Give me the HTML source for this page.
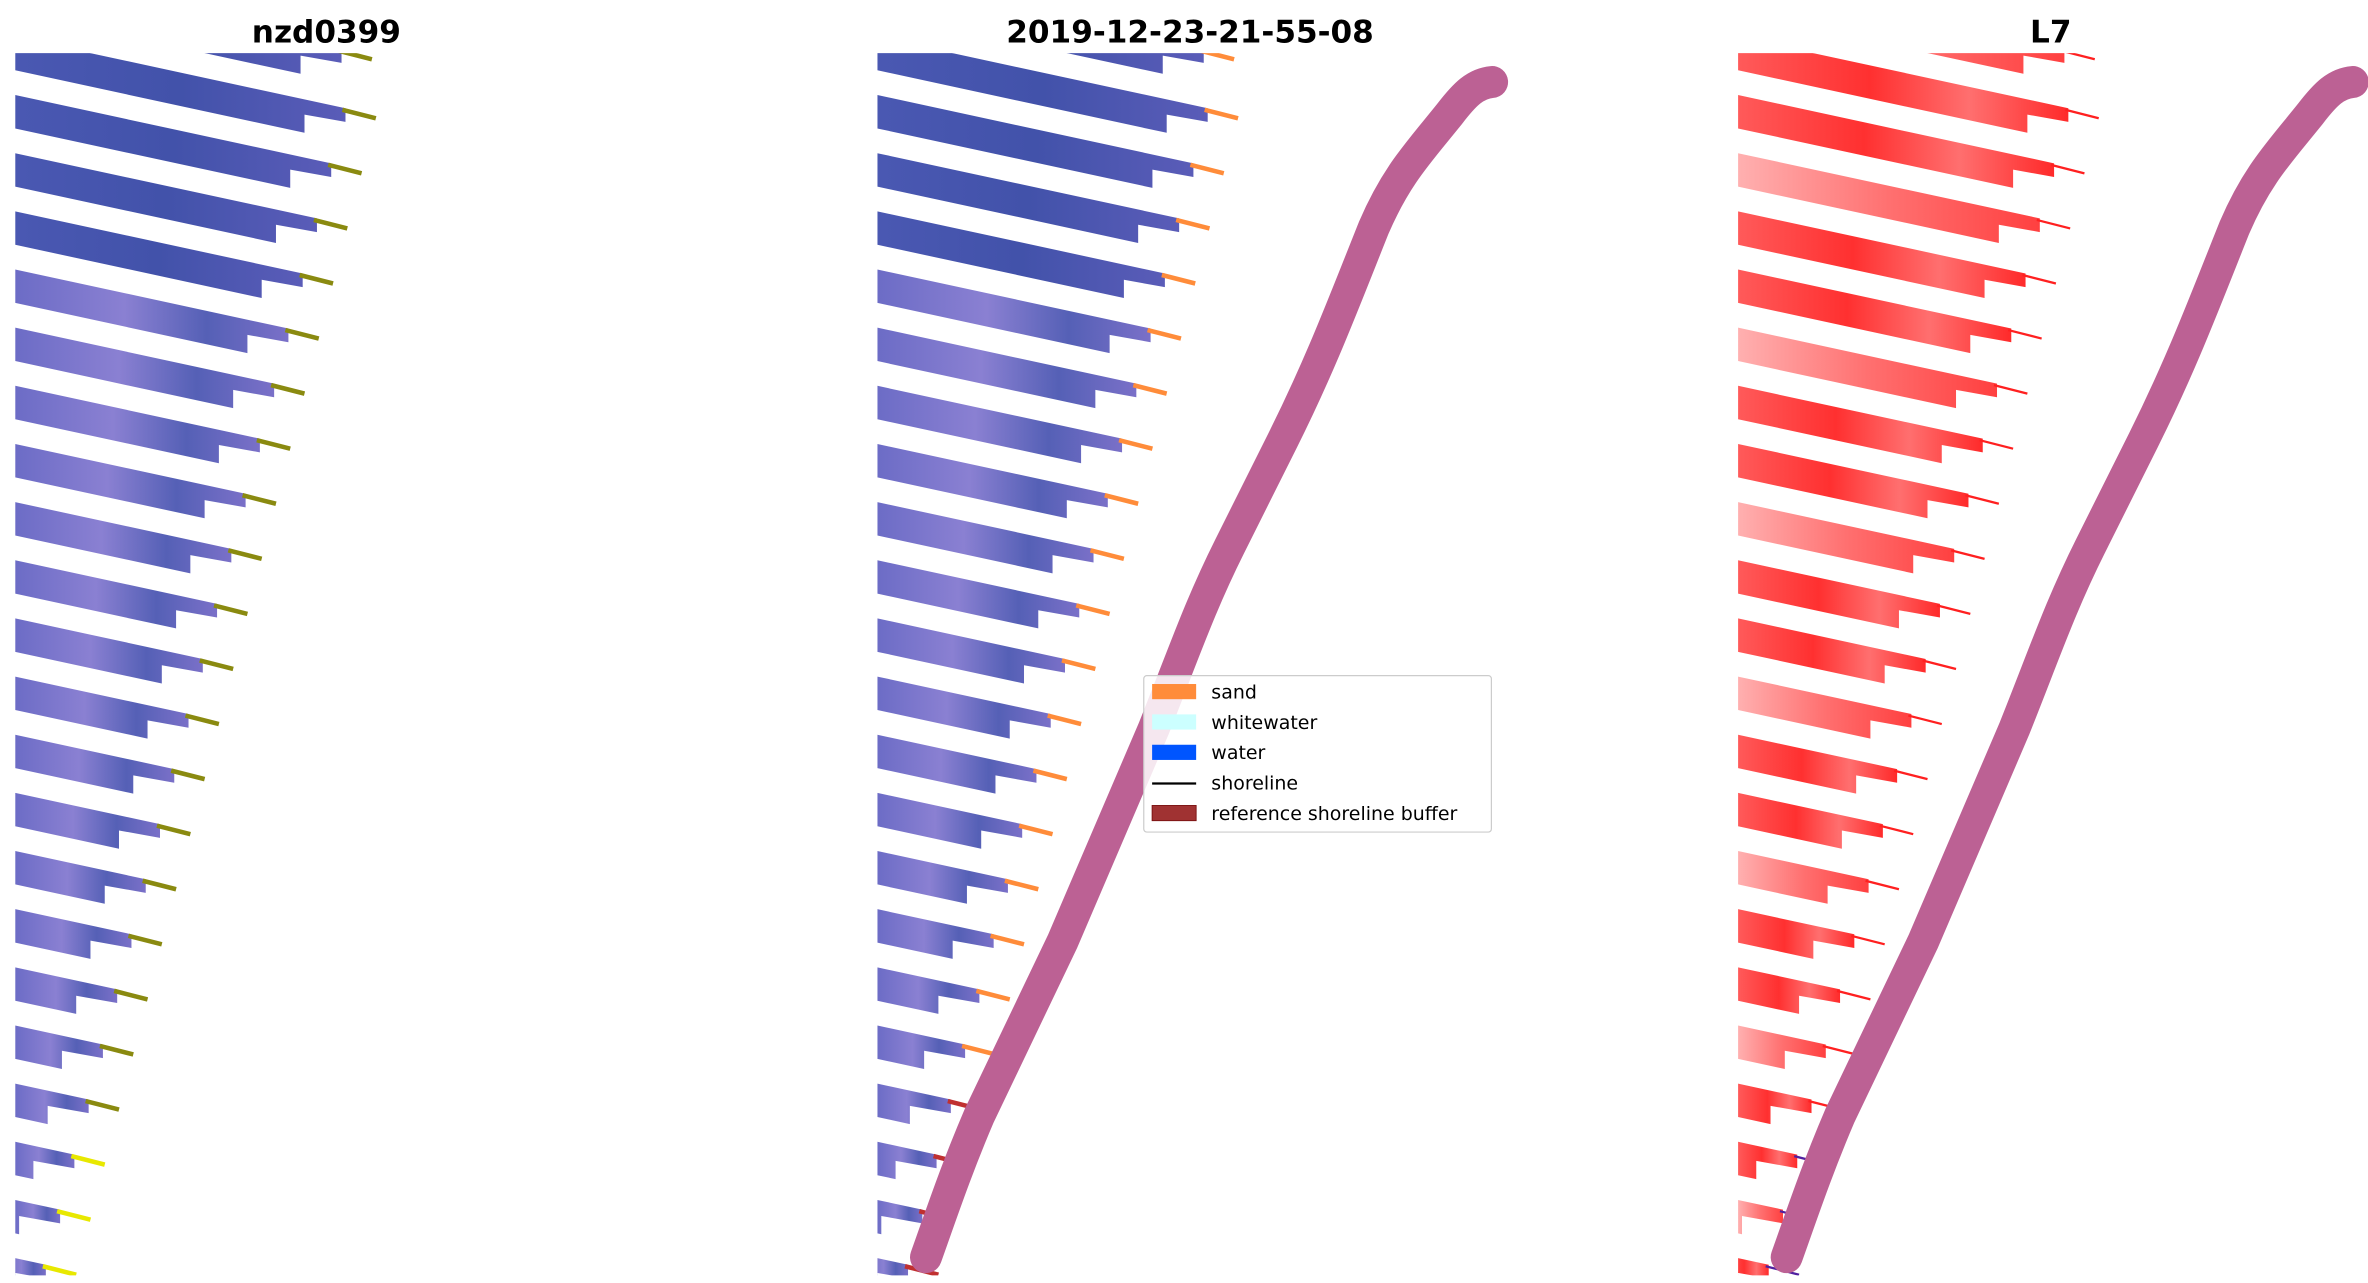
<!DOCTYPE html>
<html><head><meta charset="utf-8"><style>
html,body{margin:0;padding:0;background:#fff;}
svg{display:block;}
</style></head><body>
<svg id="s" width="2368" height="1283" viewBox="0 0 1560 845" preserveAspectRatio="none" xmlns="http://www.w3.org/2000/svg">
<defs>
<clipPath id="c1"><rect x="10" y="35" width="410" height="805"/></clipPath>
<clipPath id="c2"><rect x="578" y="35" width="420" height="805"/></clipPath>
<clipPath id="c3"><rect x="1145" y="35" width="420" height="805"/></clipPath>
<linearGradient id="gb" x1="0" y1="0" x2="1" y2="0"><stop offset="0" stop-color="#4a58b2"/><stop offset="0.5" stop-color="#4252aa"/><stop offset="1" stop-color="#5a5cb8"/></linearGradient>
<linearGradient id="gp" x1="0" y1="0" x2="1" y2="0"><stop offset="0" stop-color="#6c6cc6"/><stop offset="0.4" stop-color="#8a80d2"/><stop offset="0.7" stop-color="#5560b6"/><stop offset="1" stop-color="#7a70c8"/></linearGradient>
<linearGradient id="gr" x1="0" y1="0" x2="1" y2="0"><stop offset="0" stop-color="#ff5a5a"/><stop offset="0.4" stop-color="#ff3030"/><stop offset="0.7" stop-color="#ff6f6f"/><stop offset="1" stop-color="#ff2a2a"/></linearGradient>
<linearGradient id="grl" x1="0" y1="0" x2="1" y2="0"><stop offset="0" stop-color="#ffb0b0"/><stop offset="0.5" stop-color="#ff7070"/><stop offset="1" stop-color="#ff4040"/></linearGradient>
</defs>
<g font-family="DejaVu Sans, Liberation Sans, sans-serif" font-weight="bold" font-size="20.5" text-anchor="middle" fill="#000">
<text x="215" y="28">nzd0399</text>
<text x="784" y="28">2019-12-23-21-55-08</text>
<text x="1351" y="28">L7</text>
</g>
<g id="p1" clip-path="url(#c1)"></g>
<g id="p2" clip-path="url(#c2)"></g>
<g id="p3" clip-path="url(#c3)"></g>
<g id="leg">
<rect x="753.5" y="445" width="229" height="103" rx="2" fill="#fff" fill-opacity="0.85" stroke="#cccccc" stroke-width="0.8"/>
<rect x="759" y="450.5" width="29" height="10" fill="#ff8c3a"/>
<rect x="759" y="470.5" width="29" height="10" fill="#ccffff"/>
<rect x="759" y="490.5" width="29" height="10" fill="#0055ff"/>
<line x1="759" y1="516" x2="788" y2="516" stroke="#000" stroke-width="1.5"/>
<rect x="759" y="530.5" width="29" height="10" fill="#a03232" stroke="#7a1010" stroke-width="0.6"/>
<g font-family="DejaVu Sans, Liberation Sans, sans-serif" font-size="12.5" fill="#000">
<text x="798" y="460">sand</text>
<text x="798" y="480">whitewater</text>
<text x="798" y="500">water</text>
<text x="798" y="520">shoreline</text>
<text x="798" y="540">reference shoreline buffer</text>
</g>
</g>
</svg>
<script>
(function(){
var NS="http://www.w3.org/2000/svg";
function el(t,a,p){var e=document.createElementNS(NS,t);for(var k in a)e.setAttribute(k,a[k]);p.appendChild(e);return e;}
var s=0.216,h=22;
function panel(id,ox,kind){
 var g=document.getElementById(id);
 for(var k=0;k<=22;k++){
  var y0=-14+38.3*k;
  var xr=237-9.4*k; if(k==0)xr=225;
  var L=10+ox,R=xr+ox;
  var yt=y0+s*(xr-10);
  var xn=xr-27;
  var pts=[[L,y0],[R,yt],[R,yt+9],[xn+ox,y0+s*(xn-10)+10],[xn+ox,y0+s*(xn-10)+h],[L,y0+h]];
  var fill;
  if(kind==3){fill=(k%3==0)?"url(#grl)":"url(#gr)";}
  else fill=(k<5)?"url(#gb)":"url(#gp)";
  el("polygon",{points:pts.map(function(p){return p.join(",")}).join(" "),fill:fill},g);
  var tc=kind==1?(k>19?"#e8e800":"#8a8a10"):(kind==2?(k>18?"#c03030":"#ff8c3a"):(k>19?"#5020a0":"#ff2020"));
  var tw=kind==3?1.5:3;
  el("line",{x1:R-2,y1:yt+1,x2:R+20,y2:yt+1+20*0.28,stroke:tc,"stroke-width":tw},g);
 }
 if(kind!=1){
  var d="M610,828 C620,800 630,770 645,735 L700,620 L760,480 C780,430 790,400 810,360 L845,290 C870,240 885,200 905,150 C920,115 935,100 955,75 C965,62 972,55 983,54";
  el("path",{d:d,transform:"translate("+(kind==3?567:0)+",0)",fill:"none",stroke:"#bc6194","stroke-width":21,"stroke-linecap":"round"},g);
 }
}
panel("p1",0,1);
panel("p2",568,2);
panel("p3",1135,3);
})();
</script>
</body></html>
